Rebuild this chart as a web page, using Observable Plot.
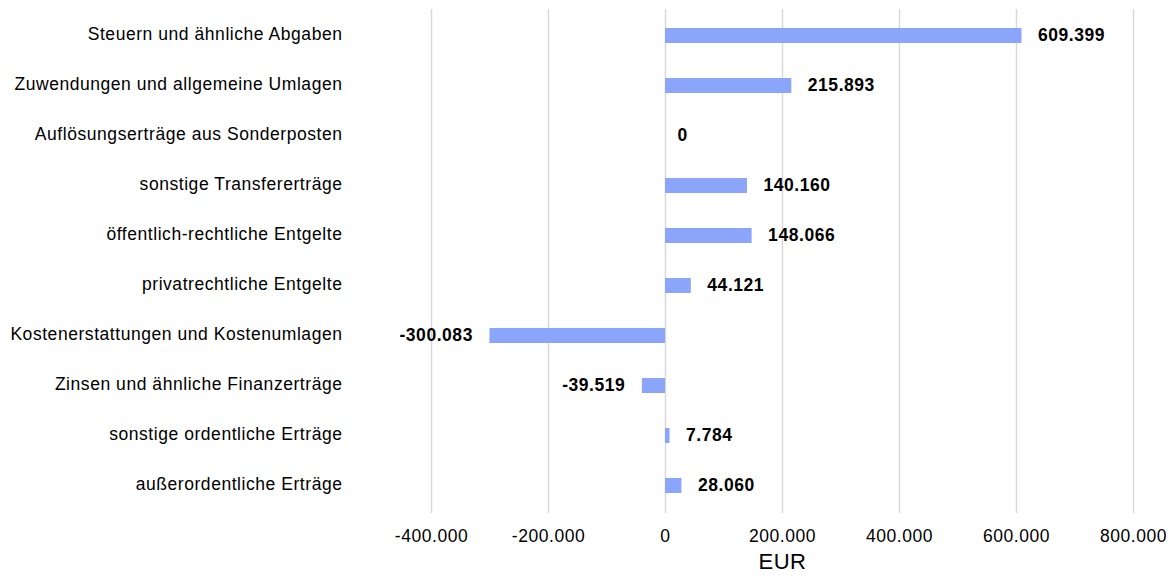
<!DOCTYPE html>
<html>
<head>
<meta charset="utf-8">
<script src="https://cdn.jsdelivr.net/npm/d3@7"></script>
<script src="https://cdn.jsdelivr.net/npm/@observablehq/plot@0.6"></script>
<style>
  html, body { margin: 0; padding: 0; background: #fff; }
</style>
</head>
<body>
<div id="chart"></div>
<script>
const categories = [
  "Steuern und ähnliche Abgaben",
  "Zuwendungen und allgemeine Umlagen",
  "Auflösungserträge aus Sonderposten",
  "sonstige Transfererträge",
  "öffentlich-rechtliche Entgelte",
  "privatrechtliche Entgelte",
  "Kostenerstattungen und Kostenumlagen",
  "Zinsen und ähnliche Finanzerträge",
  "sonstige ordentliche Erträge",
  "außerordentliche Erträge"
];
const values = [609399, 215893, 0, 140160, 148066, 44121, -300083, -39519, 7784, 28060];
const xTicks = [-400000, -200000, 0, 200000, 400000, 600000, 800000];
const axisTitle = "EUR";

const de = d3.formatLocale({decimal: ",", thousands: ".", grouping: [3], currency: ["", " €"], minus: "-"});
const fmt = de.format(",d");

const data = categories.map((c, i) => ({category: c, value: values[i]}));
const pos = data.filter(d => d.value > 0);
const neg = data.filter(d => d.value < 0);
const zero = data.filter(d => d.value === 0);

const chart = Plot.plot({
  width: 1176,
  height: 581,
  marginLeft: 431,
  marginRight: 43,
  marginTop: 9,
  marginBottom: 68,
  style: {fontFamily: "'Liberation Sans', Arial, sans-serif", fontSize: "17.5px", letterSpacing: "0.55px", color: "#000", background: "#fff"},
  x: {domain: [-400000, 800000]},
  y: {domain: categories, paddingInner: 0.7, paddingOuter: 0.35, align: 0.5},
  marks: [
    Plot.ruleX(xTicks, {stroke: "#d9d9d9", strokeWidth: 1.5, strokeOpacity: 1}),
    Plot.barX(data, {x: "value", y: "category", fill: "#8aa5f9"}),
    Plot.text(pos, {x: "value", y: "category", text: d => fmt(d.value), textAnchor: "start", dx: 16, dy: -1, fontWeight: "bold", fontSize: 17.5, fill: "#000"}),
    Plot.text(neg, {x: "value", y: "category", text: d => fmt(d.value), textAnchor: "end", dx: -17, dy: -1, fontWeight: "bold", fontSize: 17.5, fill: "#000"}),
    Plot.text(zero, {x: "value", y: "category", text: d => fmt(d.value), textAnchor: "start", dx: 12, dy: -1, fontWeight: "bold", fontSize: 17.5, fill: "#000"}),
    Plot.axisX({ticks: xTicks, tickFormat: fmt, tickSize: 0, tickPadding: 16, label: null, fontSize: 17.5, fill: "#000"}),
    Plot.axisY({tickSize: 0, tickPadding: 89, dy: -1.5, label: null, fontSize: 17.5, fill: "#000"}),
    Plot.text([axisTitle], {frameAnchor: "bottom", dy: 55, fontSize: 22, fill: "#000"})
  ]
});
document.getElementById("chart").appendChild(chart);
</script>
</body>
</html>
